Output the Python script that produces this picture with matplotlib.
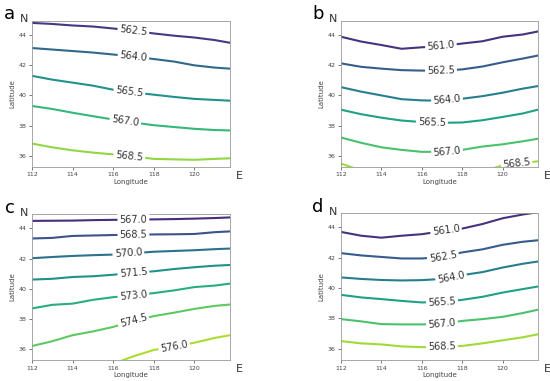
import numpy as np
import matplotlib
matplotlib.use("Agg")
import matplotlib.pyplot as plt

nan = np.nan

# longitude grid shared by all panels
lon = [112, 113, 114, 115, 116, 117, 118, 119, 120, 121, 121.75]

# panel a
a_levels = [562.5, 564.0, 565.5, 567.0, 568.5]
a_lat = [
    [44.82, 44.75, 44.65, 44.58, 44.45, 44.30, 44.12, 43.97, 43.85, 43.68, 43.50],
    [43.15, 43.05, 42.95, 42.85, 42.72, 42.58, 42.42, 42.25, 42.00, 41.85, 41.78],
    [41.30, 41.05, 40.85, 40.65, 40.38, 40.20, 40.05, 39.90, 39.77, 39.70, 39.65],
    [39.30, 39.10, 38.85, 38.62, 38.40, 38.20, 38.02, 37.90, 37.78, 37.70, 37.67],
    [36.80, 36.55, 36.35, 36.20, 36.08, 35.95, 35.78, 35.75, 35.72, 35.78, 35.82],
]
a_label_lon = [117.0, 117.0, 116.8, 116.6, 116.8]

# panel b
b_levels = [561.0, 562.5, 564.0, 565.5, 567.0, 568.5]
b_lat = [
    [43.90, 43.58, 43.35, 43.10, 43.20, 43.28, 43.45, 43.60, 43.90, 44.05, 44.25],
    [42.13, 41.90, 41.78, 41.68, 41.65, 41.65, 41.73, 41.92, 42.20, 42.45, 42.65],
    [40.55, 40.25, 40.00, 39.75, 39.67, 39.65, 39.78, 39.95, 40.18, 40.45, 40.62],
    [39.05, 38.75, 38.52, 38.33, 38.23, 38.18, 38.20, 38.35, 38.57, 38.80, 39.05],
    [37.20, 36.85, 36.55, 36.38, 36.25, 36.25, 36.38, 36.60, 36.75, 36.95, 37.12],
    [35.47, 35.00, nan, nan, nan, nan, nan, 34.95, 35.35, 35.50, 35.62],
]
b_label_lon = [116.95, 116.95, 117.25, 116.5, 117.25, 120.7]

# panel c
c_levels = [567.0, 568.5, 570.0, 571.5, 573.0, 574.5, 576.0]
c_lat = [
    [44.50, 44.51, 44.52, 44.55, 44.57, 44.58, 44.60, 44.62, 44.65, 44.69, 44.73],
    [43.33, 43.37, 43.50, 43.53, 43.56, 43.58, 43.60, 43.61, 43.63, 43.75, 43.80],
    [42.02, 42.10, 42.17, 42.22, 42.26, 42.35, 42.45, 42.50, 42.55, 42.62, 42.66],
    [40.60, 40.65, 40.77, 40.82, 40.92, 41.05, 41.15, 41.30, 41.42, 41.52, 41.57],
    [38.68, 38.92, 39.00, 39.25, 39.43, 39.55, 39.70, 39.88, 40.10, 40.20, 40.33],
    [36.18, 36.50, 36.90, 37.15, 37.45, 37.85, 38.17, 38.40, 38.65, 38.85, 38.94],
    [nan, nan, nan, nan, 35.00, 35.50, 35.92, 36.15, 36.40, 36.72, 36.90],
]
c_label_lon = [117.0, 117.0, 116.75, 117.0, 117.0, 117.0, 119.0]

# panel d
d_levels = [561.0, 562.5, 564.0, 565.5, 567.0, 568.5]
d_lat = [
    [43.70, 43.45, 43.32, 43.45, 43.55, 43.75, 43.92, 44.22, 44.60, 44.85, 45.00],
    [42.30, 42.15, 42.05, 41.95, 41.95, 42.05, 42.35, 42.55, 42.85, 43.05, 43.15],
    [40.70, 40.60, 40.53, 40.50, 40.52, 40.60, 40.85, 41.05, 41.35, 41.60, 41.75],
    [39.55, 39.38, 39.27, 39.15, 39.05, 39.08, 39.22, 39.42, 39.70, 39.93, 40.10],
    [37.95, 37.80, 37.62, 37.60, 37.60, 37.65, 37.83, 37.95, 38.10, 38.35, 38.57],
    [36.50, 36.35, 36.28, 36.15, 36.10, 36.12, 36.18, 36.35, 36.55, 36.75, 36.95],
]
d_label_lon = [117.2, 117.05, 117.45, 117.0, 117.0, 117.0]

panels = [
    ("a", a_levels, a_lat, a_label_lon, [0.058, 0.562, 0.360, 0.383], (0.018, 0.962)),
    ("b", b_levels, b_lat, b_label_lon, [0.620, 0.562, 0.358, 0.383], (0.578, 0.964)),
    ("c", c_levels, c_lat, c_label_lon, [0.058, 0.055, 0.360, 0.383], (0.018, 0.455)),
    ("d", d_levels, d_lat, d_label_lon, [0.620, 0.055, 0.358, 0.386], (0.578, 0.458)),
]

fig = plt.figure(figsize=(5.5, 3.81), dpi=100)
cmap = plt.get_cmap("viridis")

for letter, levels, lats, label_lons, pos, letter_xy in panels:
    ax = fig.add_axes(pos)
    ax.set_xlim(112, 121.75)
    ax.set_ylim(35.25, 44.95)
    norm = plt.Normalize(min(levels) - 1.5, max(levels) + 1.5)
    for lev, lat, llon in zip(levels, lats, label_lons):
        color = cmap(norm(lev))
        ax.plot(lon, lat, color=color, lw=1.5)
        lat_arr = np.array(lat)
        ok = ~np.isnan(lat_arr)
        xs = np.array(lon)[ok]
        ys = lat_arr[ok]
        ly = np.interp(llon, xs, ys)
        # angle of the line in screen space
        p1 = ax.transData.transform((llon - 0.3, np.interp(llon - 0.3, xs, ys)))
        p2 = ax.transData.transform((llon + 0.3, np.interp(llon + 0.3, xs, ys)))
        ang = np.degrees(np.arctan2(p2[1] - p1[1], p2[0] - p1[0]))
        ax.text(llon, ly, f"{lev:.1f}", fontsize=7, color="#333333",
                ha="center", va="center", rotation=ang, rotation_mode="anchor",
                bbox=dict(fc="white", ec="none", pad=1.5), clip_on=True)
    ax.set_xticks([112, 114, 116, 118, 120])
    ax.set_yticks([36, 38, 40, 42, 44])
    ax.tick_params(labelsize=4.5, length=2, width=0.5, pad=2, colors="#444444")
    ax.set_xlabel("Longitude", fontsize=5, labelpad=1, color="#444444")
    ax.set_ylabel("Latitude", fontsize=5, labelpad=2, color="#444444")
    for s in ax.spines.values():
        s.set_linewidth(0.6)
        s.set_color("#999999")
    ax.text(-0.02, 1.01, "N", transform=ax.transAxes, fontsize=8,
            ha="right", va="center", color="#333333")
    ax.text(1.03, -0.06, "E", transform=ax.transAxes, fontsize=8,
            ha="left", va="center", color="#333333")
    fig.text(letter_xy[0], letter_xy[1], letter, fontsize=13,
             ha="center", va="center", color="black")

fig.savefig("out.png", dpi=100)
